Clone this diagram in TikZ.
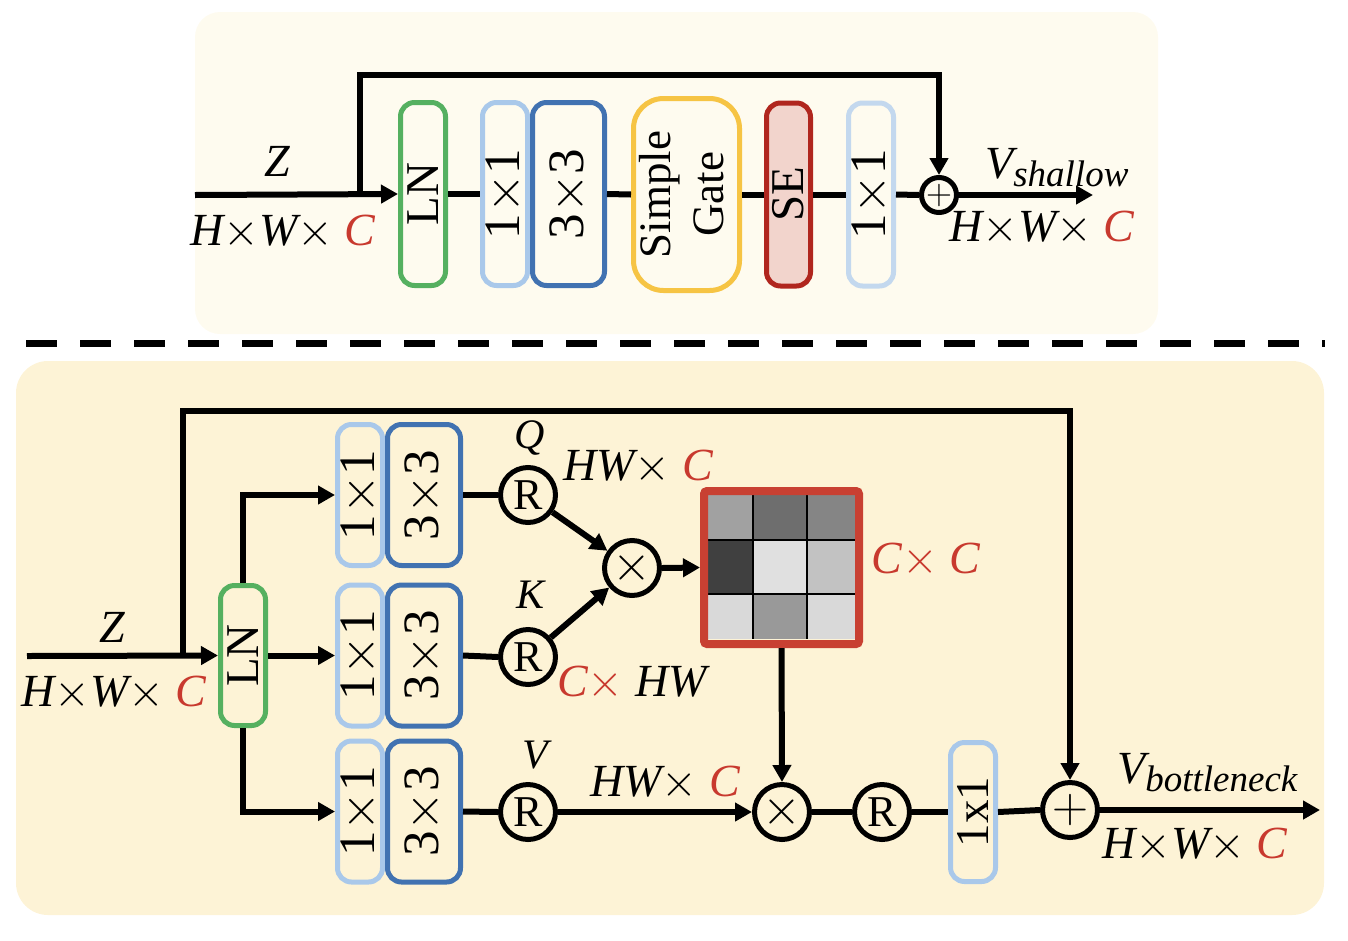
\RequirePackage{fix-cm}
\documentclass[tikz,border=0pt]{standalone}
\usepackage{fontspec}
\setmainfont{Liberation Serif}
\usetikzlibrary{arrows.meta}
\definecolor{bgtop}{HTML}{FEFBEF}
\definecolor{bgbot}{HTML}{FDF3D6}
\definecolor{lngreen}{HTML}{55B060}
\definecolor{lblue}{HTML}{A9C8EA}
\definecolor{lbluetwo}{HTML}{C3D8EE}
\definecolor{dblue}{HTML}{4172B1}
\definecolor{sgyellow}{HTML}{F6C444}
\definecolor{sered}{HTML}{B0261E}
\definecolor{sefill}{HTML}{F2D4CC}
\definecolor{cred}{HTML}{C8392E}
\definecolor{mred}{HTML}{C84032}
\newcommand\bxfont{\fontsize{47}{53}\selectfont}
\newcommand\dgfont{\fontsize{51}{55}\selectfont}
\newcommand\lbfont{\fontsize{46}{50}\selectfont\itshape}
\newcommand\rc{\textcolor{cred}{C}}
\newcommand\tm{\ensuremath{\times}}
\begin{document}
\begin{tikzpicture}[x=1pt,y=-1pt,
  con/.style={line width=6pt},
  arr/.style={line width=6pt,-{Triangle[length=17pt,width=18pt]}},
  bx/.style={line width=5pt, rounded corners=14pt, inner sep=0pt, font=\bxfont},
  lnbox/.style={bx, draw=lngreen},
  onebox/.style={bx, draw=lblue, font=\dgfont},
  onelight/.style={bx, draw=lbluetwo, font=\dgfont},
  threebox/.style={bx, draw=dblue, font=\dgfont},
  sgbox/.style={bx, draw=sgyellow, rounded corners=30pt},
  sebox/.style={bx, draw=sered, fill=sefill},
  rcirc/.style={circle, draw, line width=5pt, minimum size=55pt, inner sep=0pt, font=\fontsize{44}{44}\selectfont},
  opcirc/.style={circle, draw, line width=5pt, minimum size=55pt, inner sep=0pt, font=\fontsize{50}{50}\selectfont},
  lab/.style={font=\lbfont, inner sep=0pt},
]
\useasboundingbox (0,0) rectangle (1348,940);
% backgrounds
\fill[bgtop, rounded corners=25pt] (195,12) rectangle (1158,334);
\fill[bgbot, rounded corners=32pt] (16,361) rectangle (1324,915);
\draw[line width=7pt, dash pattern=on 31pt off 23pt] (26,343) -- (1325,343);

% ================= TOP PANEL =================
\node[lnbox, minimum width=45pt, minimum height=183pt] (lnT) at (423,194) {\rotatebox{90}{LN}};
\node[onebox, minimum width=45pt, minimum height=183pt] (oneT) at (505,194) {\rotatebox{90}{1\tm1}};
\node[threebox, minimum width=72pt, minimum height=183pt] (threeT) at (568.5,194) {\rotatebox{90}{3\tm3}};
\node[sgbox, minimum width=102pt, minimum height=192pt, font=\fontsize{45}{53}\selectfont] (sgT) at (686.5,194.5) {\rotatebox{90}{\begin{tabular}{@{}c@{}}Simple\\Gate\end{tabular}}};
\node[sebox, minimum width=44pt, minimum height=183pt] (seT) at (788.5,194.5) {\rotatebox{90}{SE}};
\node[onelight, minimum width=45pt, minimum height=183pt] (oneTb) at (871,194.5) {\rotatebox{90}{1\tm1}};
\node[circle, draw, line width=5pt, minimum size=35pt, inner sep=0pt, font=\fontsize{36}{36}\selectfont] (plusT) at (939,195) {\ensuremath{+}};

\coordinate (inT) at (195,195);
\coordinate (brT) at (360,195);
\coordinate (outT) at (1093,195);
\draw[arr] (inT) -- (lnT.west);
\draw[con] (lnT.east) -- (oneT.west);
\draw[con] (threeT.east) -- (sgT.west);
\draw[con] (sgT.east) -- (seT.west);
\draw[con] (seT.east) -- (oneTb.west);
\draw[con] (oneTb.east) -- (plusT.west);
\draw[arr] (plusT.east) -- (outT);
\draw[arr, line join=miter] (brT) -- (360,75) -| (plusT.north);

\node[lab] (zT) at (277,161) {Z};
\node[lab] (dimT) at (283,232) {H\tm W\tm\ \rc};
\node[lab, anchor=west] (vT) at (985,168) {V\raisebox{-8pt}{\fontsize{37}{37}\selectfont shallow}};
\node[lab] (dimTo) at (1042,228) {H\tm W\tm\ \rc};

% ================= BOTTOM PANEL =================
\node[lnbox, minimum width=45pt, minimum height=140pt] (lnB) at (243,655.5) {\rotatebox{90}{LN}};
\node[onebox, minimum width=45pt, minimum height=141pt] (oneQ) at (360,495) {\rotatebox{90}{1\tm1}};
\node[threebox, minimum width=73pt, minimum height=141pt] (threeQ) at (424,495) {\rotatebox{90}{3\tm3}};
\node[onebox, minimum width=45pt, minimum height=141pt] (oneK) at (360,655.5) {\rotatebox{90}{1\tm1}};
\node[threebox, minimum width=73pt, minimum height=141pt] (threeK) at (424,655.5) {\rotatebox{90}{3\tm3}};
\node[onebox, minimum width=45pt, minimum height=141pt] (oneV) at (360,811.5) {\rotatebox{90}{1\tm1}};
\node[threebox, minimum width=73pt, minimum height=141pt] (threeV) at (424,811.5) {\rotatebox{90}{3\tm3}};

\node[rcirc] (rQ) at (528,495) {R};
\node[rcirc] (rK) at (528,657) {R};
\node[rcirc] (rV) at (528,812) {R};
\node[opcirc] (mulA) at (632,568) {\tm};
\node[opcirc] (mulB) at (782,812) {\tm};
\node[rcirc] (rO) at (882,812) {R};
\node[onebox, minimum width=45pt, minimum height=139pt, font=\bxfont] (oneO) at (973,812) {\rotatebox{90}{1x1}};
\node[opcirc] (plusB) at (1070,810) {\ensuremath{+}};

% matrix
\begin{scope}
\fill[black!37] (708,495) rectangle (753,540);
\fill[black!57] (753,495) rectangle (807,540);
\fill[black!48] (807,495) rectangle (855,540);
\fill[black!75] (708,540) rectangle (753,594);
\fill[black!12] (753,540) rectangle (807,594);
\fill[black!24] (807,540) rectangle (855,594);
\fill[black!15] (708,594) rectangle (753,639);
\fill[black!40] (753,594) rectangle (807,639);
\fill[black!15] (807,594) rectangle (855,639);
\draw[line width=2pt] (753,495) -- (753,639) (807,495) -- (807,639)
  (708,540) -- (855,540) (708,594) -- (855,594);
\end{scope}
\node[draw=mred, line width=8pt, rounded corners=3pt, minimum width=155pt, minimum height=153pt, inner sep=0pt] (mat) at (781.5,567.5) {};

% connectors
\coordinate (inB) at (27,656);
\coordinate (brB) at (183,656);
\coordinate (outB) at (1320,810);
\draw[arr] (inB) -- (lnB.west);
\draw[arr] (lnB.north) |- (oneQ.west);
\draw[arr] (lnB.east) -- (oneK.west);
\draw[arr] (lnB.south) |- (oneV.west);
\draw[con] (threeQ.east) -- (rQ.west);
\draw[con] (threeK.east) -- (rK.west);
\draw[con] (threeV.east) -- (rV.west);
\draw[arr] (rQ) -- (mulA);
\draw[arr] (rK) -- (mulA);
\draw[arr] (mulA.east) -- (mat.west);
\draw[arr] (mat.south) -- (mulB.north);
\draw[arr] (rV.east) -- (mulB.west);
\draw[con] (mulB.east) -- (rO.west);
\draw[con] (rO.east) -- (oneO.west);
\draw[con] (oneO.east) -- (plusB.west);
\draw[arr] (plusB.east) -- (outB);
\draw[arr, line join=miter] (brB) -- (183,411) -| (plusB.north);

% labels
\node[lab] (zB) at (112,627) {Z};
\node[lab] (dimB) at (114,693) {H\tm W\tm\ \rc};
\node[lab, font=\fontsize{42}{42}\selectfont\itshape] (qL) at (530,438) {Q};
\node[lab, font=\fontsize{42}{42}\selectfont\itshape] (kL) at (530,595) {K};
\node[lab, font=\fontsize{42}{42}\selectfont\itshape] (vL) at (535,755) {V};
\node[lab] (dimQ) at (638,467) {HW\tm\ \rc};
\node[lab] (dimK) at (632,683) {\textcolor{cred}{C\tm}\ HW};
\node[lab] (dimV) at (665,783) {HW\tm\ \rc};
\node[lab, text=cred] (dimM) at (926,560) {C\tm\ C};
\node[lab, anchor=west] (vB) at (1117,773) {V\raisebox{-8pt}{\fontsize{37}{37}\selectfont bottleneck}};
\node[lab] (dimBo) at (1195,845) {H\tm W\tm\ \rc};
\end{tikzpicture}
\end{document}
